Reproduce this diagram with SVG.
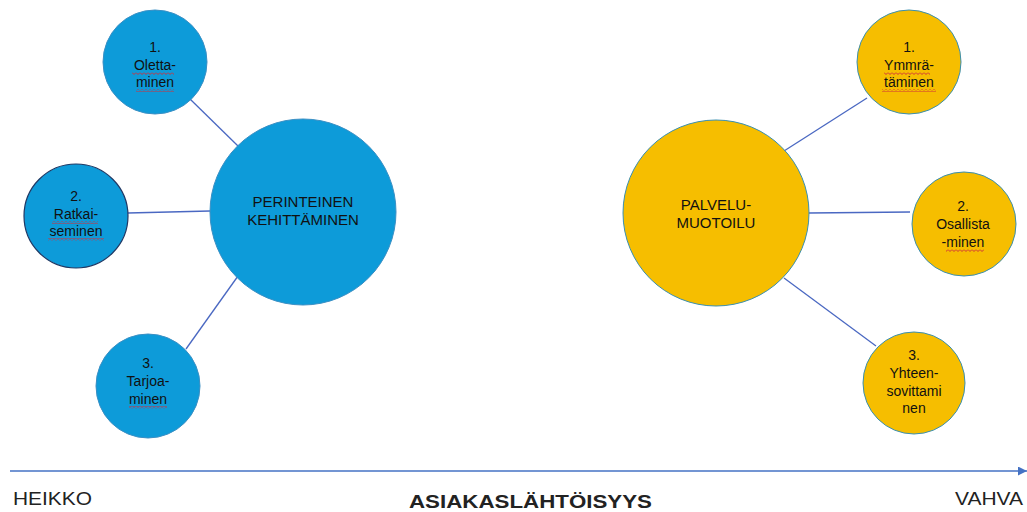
<svg xmlns="http://www.w3.org/2000/svg" width="1027" height="512" viewBox="0 0 1027 512">
  <defs>
    <style>
      .lbl { font-family: "Liberation Sans", Arial, sans-serif; font-size: 14px; fill: #111; text-anchor: middle; }
      .big { font-family: "Liberation Sans", Arial, sans-serif; font-size: 15px; fill: #111; text-anchor: middle; }
      .axis { font-family: "Liberation Sans", Arial, sans-serif; font-size: 18px; fill: #222; }
      .blue { fill: #0D9BD9; stroke: #3A8FC4; stroke-width: 1; }
      .yellow { fill: #F6BE00; stroke: #3A8FB0; stroke-width: 1; }
      .conn { stroke: #4A68C2; stroke-width: 1.3; fill: none; }
      .wave { fill: none; stroke: #D0303A; stroke-width: 1; }
    </style>
    <pattern id="squiggle" width="4" height="3" patternUnits="userSpaceOnUse">
      <polyline class="wave" points="0,0.5 2,2.5 4,0.5"/>
    </pattern>
    <marker id="arrow" viewBox="0 0 10 10" refX="10" refY="5" markerWidth="6" markerHeight="6" orient="auto">
      <path d="M0,0 L10,5 L0,10 z" fill="#4472C4"/>
    </marker>
  </defs>

  <g id="connectors">
    <line class="conn" x1="190" y1="99" x2="238" y2="146"/>
    <line class="conn" x1="128" y1="213" x2="210" y2="211"/>
    <line class="conn" x1="186" y1="349" x2="238" y2="276"/>
    <line class="conn" x1="784" y1="151" x2="867" y2="98"/>
    <line class="conn" x1="809" y1="213" x2="910" y2="212"/>
    <line class="conn" x1="784" y1="278" x2="876" y2="346"/>
  </g>

  <g id="perinteinen">
    <circle class="blue" cx="303" cy="212" r="93"/>
    <text class="big" x="303" y="207">PERINTEINEN</text>
    <text class="big" x="303" y="225">KEHITTÄMINEN</text>
  </g>

  <g id="olettaminen">
    <circle class="blue" cx="155" cy="62" r="52"/>
    <text class="lbl" x="155" y="52">1.</text>
    <text class="lbl" x="155" y="70">Oletta-</text>
    <text class="lbl" x="155" y="87">minen</text>
    <rect x="132" y="72" width="42" height="3" fill="url(#squiggle)"/>
    <rect x="136" y="89" width="38" height="3" fill="url(#squiggle)"/>
  </g>

  <g id="ratkaiseminen">
    <circle cx="76" cy="216" r="52" fill="#0D9BD9" stroke="#1F3864" stroke-width="1.2"/>
    <text class="lbl" x="76" y="201">2.</text>
    <text class="lbl" x="76" y="219">Ratkai-</text>
    <text class="lbl" x="76" y="236">seminen</text>
    <rect x="52" y="221" width="46" height="3" fill="url(#squiggle)"/>
    <rect x="48" y="238" width="56" height="3" fill="url(#squiggle)"/>
  </g>

  <g id="tarjoaminen">
    <circle class="blue" cx="148" cy="386" r="52"/>
    <text class="lbl" x="148" y="368">3.</text>
    <text class="lbl" x="148" y="386">Tarjoa-</text>
    <text class="lbl" x="148" y="404">minen</text>
    <rect x="129" y="406" width="38" height="3" fill="url(#squiggle)"/>
  </g>

  <g id="palvelumuotoilu">
    <circle class="yellow" cx="716" cy="213" r="93"/>
    <text class="big" x="716" y="210">PALVELU-</text>
    <text class="big" x="716" y="228">MUOTOILU</text>
  </g>

  <g id="ymmartaminen">
    <circle class="yellow" cx="909" cy="62" r="52"/>
    <text class="lbl" x="909" y="52">1.</text>
    <text class="lbl" x="909" y="70">Ymmrä-</text>
    <text class="lbl" x="909" y="87">täminen</text>
    <rect x="884" y="72" width="46" height="3" fill="url(#squiggle)"/>
    <rect x="882" y="89" width="54" height="3" fill="url(#squiggle)"/>
  </g>

  <g id="osallistaminen">
    <circle class="yellow" cx="964" cy="224" r="52"/>
    <text class="lbl" x="963" y="211">2.</text>
    <text class="lbl" x="963" y="229">Osallista</text>
    <text class="lbl" x="963" y="247">-minen</text>
    <rect x="946" y="249" width="38" height="3" fill="url(#squiggle)"/>
  </g>

  <g id="yhteensovittaminen">
    <circle class="yellow" cx="914" cy="383" r="51"/>
    <text class="lbl" x="914" y="360">3.</text>
    <text class="lbl" x="914" y="378">Yhteen-</text>
    <text class="lbl" x="914" y="396">sovittami</text>
    <text class="lbl" x="914" y="413">nen</text>
  </g>

  <g id="axis">
    <line x1="10" y1="471" x2="1027" y2="471" stroke="#4472C4" stroke-width="1.5" marker-end="url(#arrow)"/>
    <text class="axis" x="13" y="505" textLength="79" lengthAdjust="spacingAndGlyphs">HEIKKO</text>
    <text class="axis" x="409" y="508" font-weight="bold" textLength="243" lengthAdjust="spacingAndGlyphs">ASIAKASLÄHTÖISYYS</text>
    <text class="axis" x="955" y="505" textLength="68" lengthAdjust="spacingAndGlyphs">VAHVA</text>
  </g>
</svg>
